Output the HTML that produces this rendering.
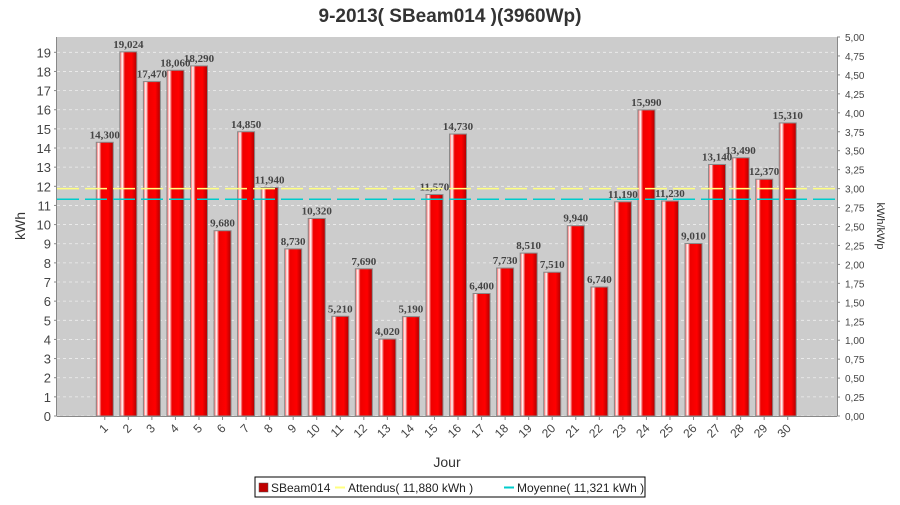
<!DOCTYPE html>
<html><head><meta charset="utf-8"><style>
body{margin:0;background:#fff;width:900px;height:500px;overflow:hidden;font-family:"Liberation Sans",sans-serif}
</style></head><body>
<svg id="chart" width="900" height="500" xmlns="http://www.w3.org/2000/svg">
<defs>
<linearGradient id="bg" x1="0" x2="1" y1="0" y2="0">
<stop offset="0" stop-color="#ff5050"/><stop offset="0.15" stop-color="#ffffff"/><stop offset="0.3" stop-color="#ee0000"/><stop offset="0.7" stop-color="#ff0000"/><stop offset="1" stop-color="#b00000"/>
</linearGradient>
</defs>
<text x="450" y="22" text-anchor="middle" font-size="19" font-weight="bold" fill="#333">9-2013( SBeam014 )(3960Wp)</text>
<rect x="57" y="37" width="780" height="379" fill="#cccccc"/>
<g id="grid"></g><g id="bars"></g><g id="lines"></g><g id="axes"></g>
<text transform="translate(25,226) rotate(-90)" text-anchor="middle" font-size="14" fill="#333">kWh</text>
<text transform="translate(877,226) rotate(90)" text-anchor="middle" font-size="11" fill="#333">kWh/kWp</text>
<text x="447" y="467" text-anchor="middle" font-size="14" fill="#333">Jour</text>
<g>
<rect x="255" y="477" width="390" height="20" fill="#fff" stroke="#000"/>
<rect x="259" y="483" width="9" height="9" fill="#c00000" stroke="#555" stroke-width="0.5"/>
<text x="271" y="492" font-size="12" fill="#222">SBeam014</text>
<line x1="335" y1="487.5" x2="345" y2="487.5" stroke="#ffff80" stroke-width="2"/>
<text x="348" y="492" font-size="12" fill="#222">Attendus( 11,880 kWh )</text>
<line x1="504" y1="487.5" x2="514" y2="487.5" stroke="#00cccc" stroke-width="2"/>
<text x="517" y="492" font-size="12" fill="#222">Moyenne( 11,321 kWh )</text>
</g>
</svg>
<script>
const days=[1,2,3,4,5,6,7,8,9,10,11,12,13,14,15,16,17,18,19,20,21,22,23,24,25,26,27,28,29,30];
const values=[14.30,19.024,17.47,18.06,18.29,9.68,14.85,11.94,8.73,10.32,5.21,7.69,4.02,5.19,11.57,14.73,6.40,7.73,8.51,7.51,9.94,6.74,11.19,15.99,11.23,9.01,13.14,13.49,12.37,15.31];
const labels=["14,300","19,024","17,470","18,060","18,290","9,680","14,850","11,940","8,730","10,320","5,210","7,690","4,020","5,190","11,570","14,730","6,400","7,730","8,510","7,510","9,940","6,740","11,190","15,990","11,230","9,010","13,140","13,490","12,370","15,310"];
const expected=[11.88];
const average=[11.321];
const yTicks=[0,1,2,3,4,5,6,7,8,9,10,11,12,13,14,15,16,17,18,19];
const y2Ticks=["0,00","0,25","0,50","0,75","1,00","1,25","1,50","1,75","2,00","2,25","2,50","2,75","3,00","3,25","3,50","3,75","4,00","4,25","4,50","4,75","5,00"];
const NS="http://www.w3.org/2000/svg";
const L=57,R=837,T=37,B=416,YMAX=19.8,PEAK=3.96;
const y=v=>B-v/YMAX*(B-T);
const catW=23.55,x0=93;
const xc=i=>x0+catW*(i+0.5);
function mk(tag,attrs,parent,text){const e=document.createElementNS(NS,tag);for(const k in attrs)e.setAttribute(k,attrs[k]);if(text!=null)e.textContent=text;parent.appendChild(e);return e;}
const grid=document.getElementById('grid'),bars=document.getElementById('bars'),lines=document.getElementById('lines'),axes=document.getElementById('axes');
yTicks.forEach(t=>{
 const g=mk('line',{x1:L,x2:R,y1:y(t),y2:y(t),stroke:'#eee','stroke-dasharray':'3,3','stroke-width':0.8},grid);
 
 
 const tl=mk('text',{x:L-6,y:y(t)+5,'text-anchor':'end','font-size':13,fill:'#444'},axes,String(t));
 
 
 mk('line',{x1:L-3,x2:L,y1:y(t),y2:y(t),stroke:'#888'},axes);
});
y2Ticks.forEach((s,i)=>{
 const v=i*0.25*PEAK;
 const tl=mk('text',{x:R+8,y:y(v)+4,'font-size':10,fill:'#444'},axes,s);
 
 
 mk('line',{x1:R,x2:R+3,y1:y(v),y2:y(v),stroke:'#888'},axes);
});
mk('line',{x1:L-0.5,x2:L-0.5,y1:T,y2:B,stroke:'#888'},axes);
mk('line',{x1:R+0.5,x2:R+0.5,y1:T,y2:B,stroke:'#888'},axes);
mk('line',{x1:L,x2:R,y1:B+0.5,y2:B+0.5,stroke:'#888'},axes);
values.forEach((v,i)=>{
 const bx=xc(i)-8.5;
 const r=mk('rect',{x:bx,y:y(v),width:17,height:B-y(v),fill:'url(#bg)',stroke:'#888','stroke-width':1},bars);
 
 
 const t=mk('text',{x:xc(i),y:y(v)-4,'text-anchor':'middle','font-size':11,'font-weight':'bold','font-family':'Liberation Serif,serif',fill:'#444'},bars,labels[i]);
 
 
 mk('line',{x1:xc(i),x2:xc(i),y1:B,y2:B+4,stroke:'#888'},axes);
 const xl=mk('text',{transform:`translate(${xc(i)+4},${B+13}) rotate(-45)`,'text-anchor':'end','font-size':12,fill:'#444'},axes,String(days[i]));
 
 
});
const a=mk('line',{x1:L,x2:R,y1:y(expected[0]),y2:y(expected[0]),stroke:'#ffff80','stroke-width':1.5,'stroke-dasharray':'22,6'},lines);


const m=mk('line',{x1:L,x2:R,y1:y(average[0]),y2:y(average[0]),stroke:'#00cccc','stroke-width':1.5,'stroke-dasharray':'22,6'},lines);


</script>
</body></html>
